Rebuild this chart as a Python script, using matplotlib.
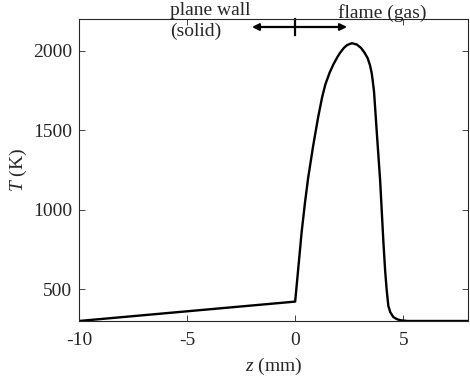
import matplotlib
matplotlib.use("Agg")
import matplotlib.pyplot as plt

plt.rcParams['font.family'] = ['Liberation Serif', 'DejaVu Serif']
plt.rcParams['mathtext.fontset'] = 'custom'
plt.rcParams['mathtext.it'] = 'Liberation Serif:italic'
plt.rcParams['mathtext.rm'] = 'Liberation Serif'

z_mm = [-10, 0, 0.15, 0.30, 0.45, 0.60, 0.83, 1.06, 1.25, 1.40, 1.60, 1.77, 1.95,
        2.08, 2.25, 2.40, 2.62, 2.85, 3.05, 3.20, 3.35, 3.46, 3.54, 3.59, 3.65,
        3.77, 3.93, 4.08, 4.16, 4.23, 4.31, 4.40, 4.54, 4.70, 4.85, 5.2, 8]
T_K = [300, 422, 640, 860, 1040, 1200, 1400, 1580, 1710, 1790, 1865, 1915, 1960,
       1988, 2018, 2036, 2048, 2040, 2018, 1990, 1955, 1910, 1860, 1810, 1740,
       1498, 1185, 800, 620, 500, 395, 355, 325, 312, 305, 300, 300]
xticks = [-10, -5, 0, 5]
yticks = [500, 1000, 1500, 2000]

fs = 14
axc = '#262626'
fig = plt.figure(figsize=(4.70, 3.81), dpi=100)
ax = fig.add_axes([0.168, 0.1575, 0.828, 0.7925])
ax.plot(z_mm, T_K, color='black', lw=1.7, solid_joinstyle='round')
ax.set_xlim(-10, 8)
ax.set_ylim(300, 2200)
ax.set_xticks(xticks)
ax.set_xticklabels([str(v) for v in xticks])
ax.set_yticks(yticks)
ax.tick_params(direction='in', top=True, right=True, labelsize=fs, colors=axc,
               length=4, width=0.6)
ax.tick_params(axis='x', pad=8)
ax.tick_params(axis='y', pad=5)
for s in ax.spines.values():
    s.set_color(axc)
    s.set_linewidth(0.8)
ax.set_xlabel(r'$z$ (mm)', fontsize=fs, color=axc, labelpad=5)
ax.set_ylabel(r'$T$ (K)', fontsize=fs, color=axc, labelpad=3)

# annotations
ax.annotate('', xy=(-2.0, 2150), xytext=(2.4, 2150),
            arrowprops=dict(arrowstyle='<|-|>', color='black', lw=1.6,
                            mutation_scale=10, shrinkA=0, shrinkB=0),
            annotation_clip=False)
ax.plot([0, 0], [2100, 2200], color='black', lw=1.6, clip_on=False)
ax.text(-5.8, 2255, 'plane wall', fontsize=fs, color=axc, va='center', ha='left')
ax.text(-5.8, 2120, '(solid)', fontsize=fs, color=axc, va='center', ha='left')
ax.text(1.97, 2240, 'flame (gas)', fontsize=fs, color=axc, va='center', ha='left')

fig.savefig('out.png', dpi=100)
